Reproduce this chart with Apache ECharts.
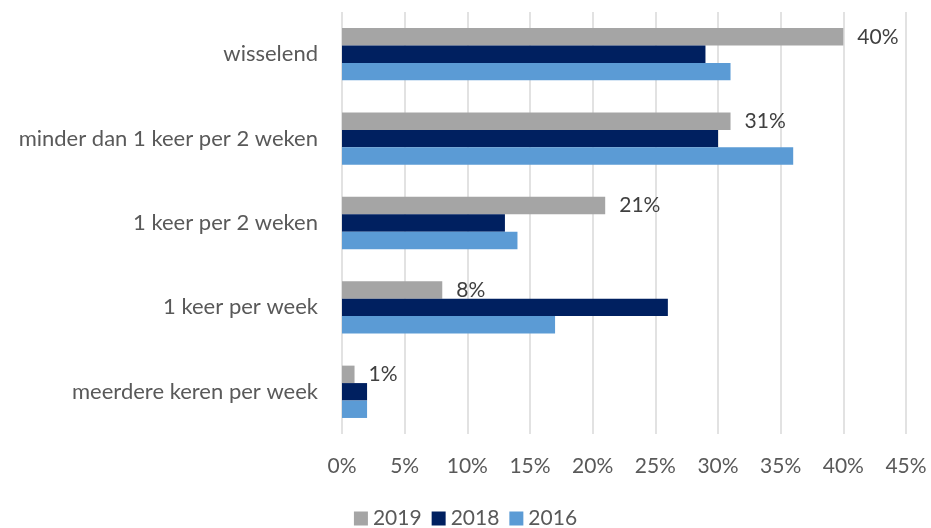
<!DOCTYPE html>
<html>
<head>
<meta charset="utf-8">
<script src="https://cdn.jsdelivr.net/npm/echarts@6/dist/echarts.min.js"></script>
<style>html,body{margin:0;padding:0;background:#fff}#c{width:931px;height:528px}</style>
</head>
<body>
<div id="c"></div>
<script>
var categories = ['meerdere keren per week', '1 keer per week', '1 keer per 2 weken', 'minder dan 1 keer per 2 weken', 'wisselend'];
var values2019 = [1, 8, 21, 31, 40];
var values2018 = [2, 26, 13, 30, 29];
var values2016 = [2, 17, 14, 36, 31];
var xTicks = [0, 5, 10, 15, 20, 25, 30, 35, 40, 45];

var FONT = 'Lato';
var chart = echarts.init(document.getElementById('c'));
chart.setOption({
  animation: false,
  textStyle: {fontFamily: FONT},
  grid: {left: 342, right: 25, top: 12, bottom: 94, containLabel: false},
  legend: {
    data: ['2019', '2018', '2016'],
    top: 508,
    left: 'center',
    padding: 0,
    itemWidth: 14, itemHeight: 14, itemGap: 10,
    icon: 'rect',
    textStyle: {fontFamily: FONT, fontSize: 21, color: '#595959'}
  },
  xAxis: {
    type: 'value', min: xTicks[0], max: xTicks[xTicks.length - 1], interval: 5,
    axisLine: {show: false}, axisTick: {show: false},
    splitLine: {lineStyle: {color: '#D9D9D9', width: 1.5}},
    axisLabel: {formatter: '{value}%', fontFamily: FONT, fontSize: 21, color: '#595959', margin: 22}
  },
  yAxis: {
    type: 'category', data: categories,
    axisLine: {show: false}, axisTick: {show: false},
    axisLabel: {fontFamily: FONT, fontSize: 22, color: '#595959', margin: 24}
  },
  series: [
    {name: '2019', type: 'bar', data: values2019, itemStyle: {color: '#A5A5A5'}, barGap: '0%', barCategoryGap: '38%',
      label: {show: true, position: 'right', distance: 14, formatter: '{c}%', fontFamily: FONT, fontSize: 21, color: '#404040'}},
    {name: '2018', type: 'bar', data: values2018, itemStyle: {color: '#002060'}, barGap: '0%', barCategoryGap: '38%'},
    {name: '2016', type: 'bar', data: values2016, itemStyle: {color: '#5B9BD5'}, barGap: '0%', barCategoryGap: '38%'}
  ]
});
</script>
</body>
</html>
